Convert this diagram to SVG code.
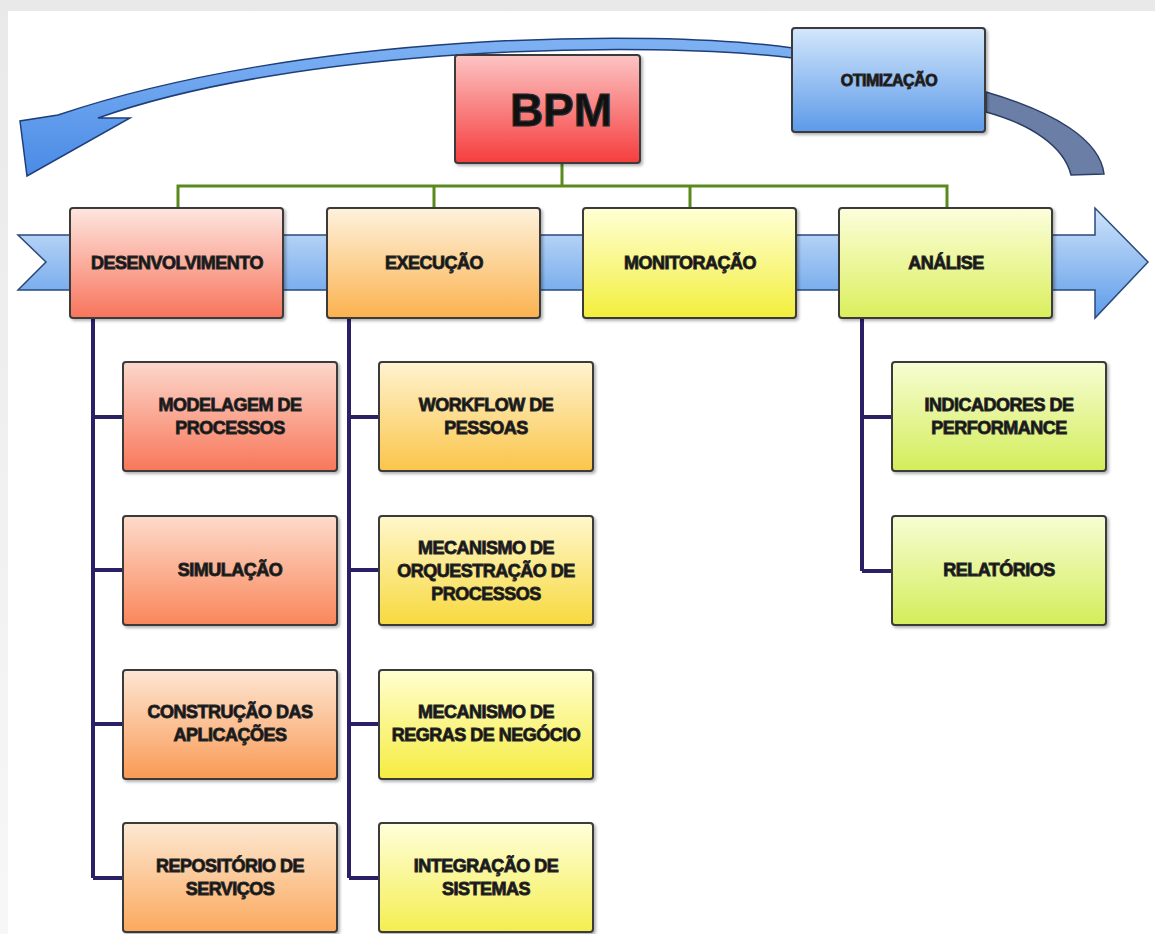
<svg xmlns="http://www.w3.org/2000/svg" width="1155" height="934" viewBox="0 0 1155 934">
<defs>
<linearGradient id="gBlue" x1="0" y1="0" x2="0" y2="1"><stop offset="0" stop-color="#d3e7fb"/><stop offset="1" stop-color="#5c9ae9"/></linearGradient>
<linearGradient id="gBand" x1="0" y1="0" x2="0" y2="1"><stop offset="0" stop-color="#cfe3fa"/><stop offset="1" stop-color="#5e9ce9"/></linearGradient>
<linearGradient id="gCurve" x1="0" y1="0" x2="0" y2="1"><stop offset="0" stop-color="#7fb2f3"/><stop offset="1" stop-color="#4a8be6"/></linearGradient>
<linearGradient id="gBpm" x1="0" y1="0" x2="0" y2="1"><stop offset="0" stop-color="#fcc4c4"/><stop offset="1" stop-color="#f63d3d"/></linearGradient>
<linearGradient id="gDev" x1="0" y1="0" x2="0" y2="1"><stop offset="0" stop-color="#fde6df"/><stop offset="1" stop-color="#f8745c"/></linearGradient>
<linearGradient id="gExe" x1="0" y1="0" x2="0" y2="1"><stop offset="0" stop-color="#fef2dd"/><stop offset="1" stop-color="#fbb24e"/></linearGradient>
<linearGradient id="gMon" x1="0" y1="0" x2="0" y2="1"><stop offset="0" stop-color="#ffffd6"/><stop offset="1" stop-color="#f3ef3c"/></linearGradient>
<linearGradient id="gAna" x1="0" y1="0" x2="0" y2="1"><stop offset="0" stop-color="#fcfedb"/><stop offset="1" stop-color="#daef5c"/></linearGradient>
<linearGradient id="gD1" x1="0" y1="0" x2="0" y2="1"><stop offset="0" stop-color="#fcd7cb"/><stop offset="1" stop-color="#f8775a"/></linearGradient>
<linearGradient id="gD2" x1="0" y1="0" x2="0" y2="1"><stop offset="0" stop-color="#fddbcb"/><stop offset="1" stop-color="#fa865a"/></linearGradient>
<linearGradient id="gD3" x1="0" y1="0" x2="0" y2="1"><stop offset="0" stop-color="#fde6d3"/><stop offset="1" stop-color="#fa9a55"/></linearGradient>
<linearGradient id="gD4" x1="0" y1="0" x2="0" y2="1"><stop offset="0" stop-color="#fde8d3"/><stop offset="1" stop-color="#fba95e"/></linearGradient>
<linearGradient id="gE1" x1="0" y1="0" x2="0" y2="1"><stop offset="0" stop-color="#fff3cf"/><stop offset="1" stop-color="#fac54a"/></linearGradient>
<linearGradient id="gE2" x1="0" y1="0" x2="0" y2="1"><stop offset="0" stop-color="#fff7cc"/><stop offset="1" stop-color="#f7d93e"/></linearGradient>
<linearGradient id="gE3" x1="0" y1="0" x2="0" y2="1"><stop offset="0" stop-color="#ffffd0"/><stop offset="1" stop-color="#f6ec40"/></linearGradient>
<linearGradient id="gE4" x1="0" y1="0" x2="0" y2="1"><stop offset="0" stop-color="#ffffdb"/><stop offset="1" stop-color="#f4ee50"/></linearGradient>
<linearGradient id="gA1" x1="0" y1="0" x2="0" y2="1"><stop offset="0" stop-color="#f7fdd3"/><stop offset="1" stop-color="#d3ed5a"/></linearGradient>
<linearGradient id="gFrame" x1="0" y1="0" x2="0" y2="1"><stop offset="0" stop-color="#e9e9e9"/><stop offset="1" stop-color="#f7f7f7"/></linearGradient>
<filter id="sh" x="-10%" y="-10%" width="130%" height="130%"><feDropShadow dx="2" dy="2" stdDeviation="1.5" flood-color="#000" flood-opacity="0.3"/></filter>
</defs>
<style>
.box{stroke:#3a3a3a;stroke-width:2;filter:url(#sh)}
.t{font-family:"Liberation Sans",Arial,sans-serif;font-weight:bold;font-size:18px;letter-spacing:-0.5px;fill:#141414;stroke:#2a2a2a;stroke-width:0.9px;text-anchor:middle}
.big{font-size:46px;letter-spacing:0;stroke-width:1.2px;fill:#111}
.g{stroke:#5a8a1e;stroke-width:3;fill:none}
.p{stroke:#2b1f66;stroke-width:4;fill:none}
</style>
<rect x="0" y="0" width="1155" height="934" fill="url(#gFrame)"/>
<rect x="8" y="11" width="1147" height="923" fill="#ffffff"/>

<g id="cycle-arrows">
<path d="M793,48 C650,28 300,33 58,115 L20,121 L27,176 L130,118 L98,118 C300,46 650,40 793,58 Z" fill="url(#gCurve)" stroke="#1f3f7a" stroke-width="1.5"/>
<path d="M986,92 C1055,112 1100,140 1104,174 L1071,175 C1064,146 1030,124 986,112 Z" fill="#6b7ea6" stroke="#2c3e66" stroke-width="1.5"/>
</g>
<g id="timeline">
<path d="M18,235 L1095,235 L1095,208 L1148,262 L1095,318 L1095,290 L18,290 L46,262 Z" fill="url(#gBand)" stroke="#2a4a7a" stroke-width="1.5"/>
</g>

<g id="connectors">
<path class="g" d="M562,163 V186 M178,208 V186 H947 V208 M434,186 V208 M690,186 V208"/>
<path class="p" d="M93,318 V878 M93,417 H123 M93,570 H123 M93,724 H123 M93,878 H123"/>
<path class="p" d="M349,318 V878 M349,417 H379 M349,570 H379 M349,724 H379 M349,878 H379"/>
<path class="p" d="M862,318 V571 M862,417 H892 M862,571 H892"/>
</g>

<g id="bpm"><rect class="box" x="455" y="55" width="185" height="108" rx="3" fill="url(#gBpm)"/><text class="t big" x="561" y="126">BPM</text></g>
<g id="otimizacao"><rect class="box" x="792" y="28" width="193" height="104" rx="3" fill="url(#gBlue)"/><text class="t" x="889" y="86" style="font-size:16px">OTIMIZAÇÃO</text></g>

<g id="desenvolvimento"><rect class="box" x="70" y="208" width="213" height="110" rx="3" fill="url(#gDev)"/><text class="t" x="177" y="269">DESENVOLVIMENTO</text></g>
<g id="execucao"><rect class="box" x="327" y="208" width="213" height="110" rx="3" fill="url(#gExe)"/><text class="t" x="434" y="269">EXECUÇÃO</text></g>
<g id="monitoracao"><rect class="box" x="583" y="208" width="213" height="110" rx="3" fill="url(#gMon)"/><text class="t" x="690" y="269">MONITORAÇÃO</text></g>
<g id="analise"><rect class="box" x="839" y="208" width="213" height="110" rx="3" fill="url(#gAna)"/><text class="t" x="946" y="269">ANÁLISE</text></g>

<g id="modelagem"><rect class="box" x="123" y="362" width="214" height="109" rx="3" fill="url(#gD1)"/><text class="t" x="230" y="411">MODELAGEM DE</text><text class="t" x="230" y="434">PROCESSOS</text></g>
<g id="simulacao"><rect class="box" x="123" y="516" width="214" height="109" rx="3" fill="url(#gD2)"/><text class="t" x="230" y="576">SIMULAÇÃO</text></g>
<g id="construcao"><rect class="box" x="123" y="670" width="214" height="109" rx="3" fill="url(#gD3)"/><text class="t" x="230" y="718">CONSTRUÇÃO DAS</text><text class="t" x="230" y="741">APLICAÇÕES</text></g>
<g id="repositorio"><rect class="box" x="123" y="823" width="214" height="109" rx="3" fill="url(#gD4)"/><text class="t" x="230" y="872">REPOSITÓRIO DE</text><text class="t" x="230" y="895">SERVIÇOS</text></g>

<g id="workflow"><rect class="box" x="379" y="362" width="214" height="109" rx="3" fill="url(#gE1)"/><text class="t" x="486" y="411">WORKFLOW DE</text><text class="t" x="486" y="434">PESSOAS</text></g>
<g id="orquestracao"><rect class="box" x="379" y="516" width="214" height="109" rx="3" fill="url(#gE2)"/><text class="t" x="486" y="554">MECANISMO DE</text><text class="t" x="486" y="577">ORQUESTRAÇÃO DE</text><text class="t" x="486" y="600">PROCESSOS</text></g>
<g id="regras"><rect class="box" x="379" y="670" width="214" height="109" rx="3" fill="url(#gE3)"/><text class="t" x="486" y="718">MECANISMO DE</text><text class="t" x="486" y="741">REGRAS DE NEGÓCIO</text></g>
<g id="integracao"><rect class="box" x="379" y="823" width="214" height="109" rx="3" fill="url(#gE4)"/><text class="t" x="486" y="872">INTEGRAÇÃO DE</text><text class="t" x="486" y="895">SISTEMAS</text></g>

<g id="indicadores"><rect class="box" x="892" y="362" width="214" height="109" rx="3" fill="url(#gA1)"/><text class="t" x="999" y="411">INDICADORES DE</text><text class="t" x="999" y="434">PERFORMANCE</text></g>
<g id="relatorios"><rect class="box" x="892" y="516" width="214" height="109" rx="3" fill="url(#gA1)"/><text class="t" x="999" y="576">RELATÓRIOS</text></g>
</svg>
